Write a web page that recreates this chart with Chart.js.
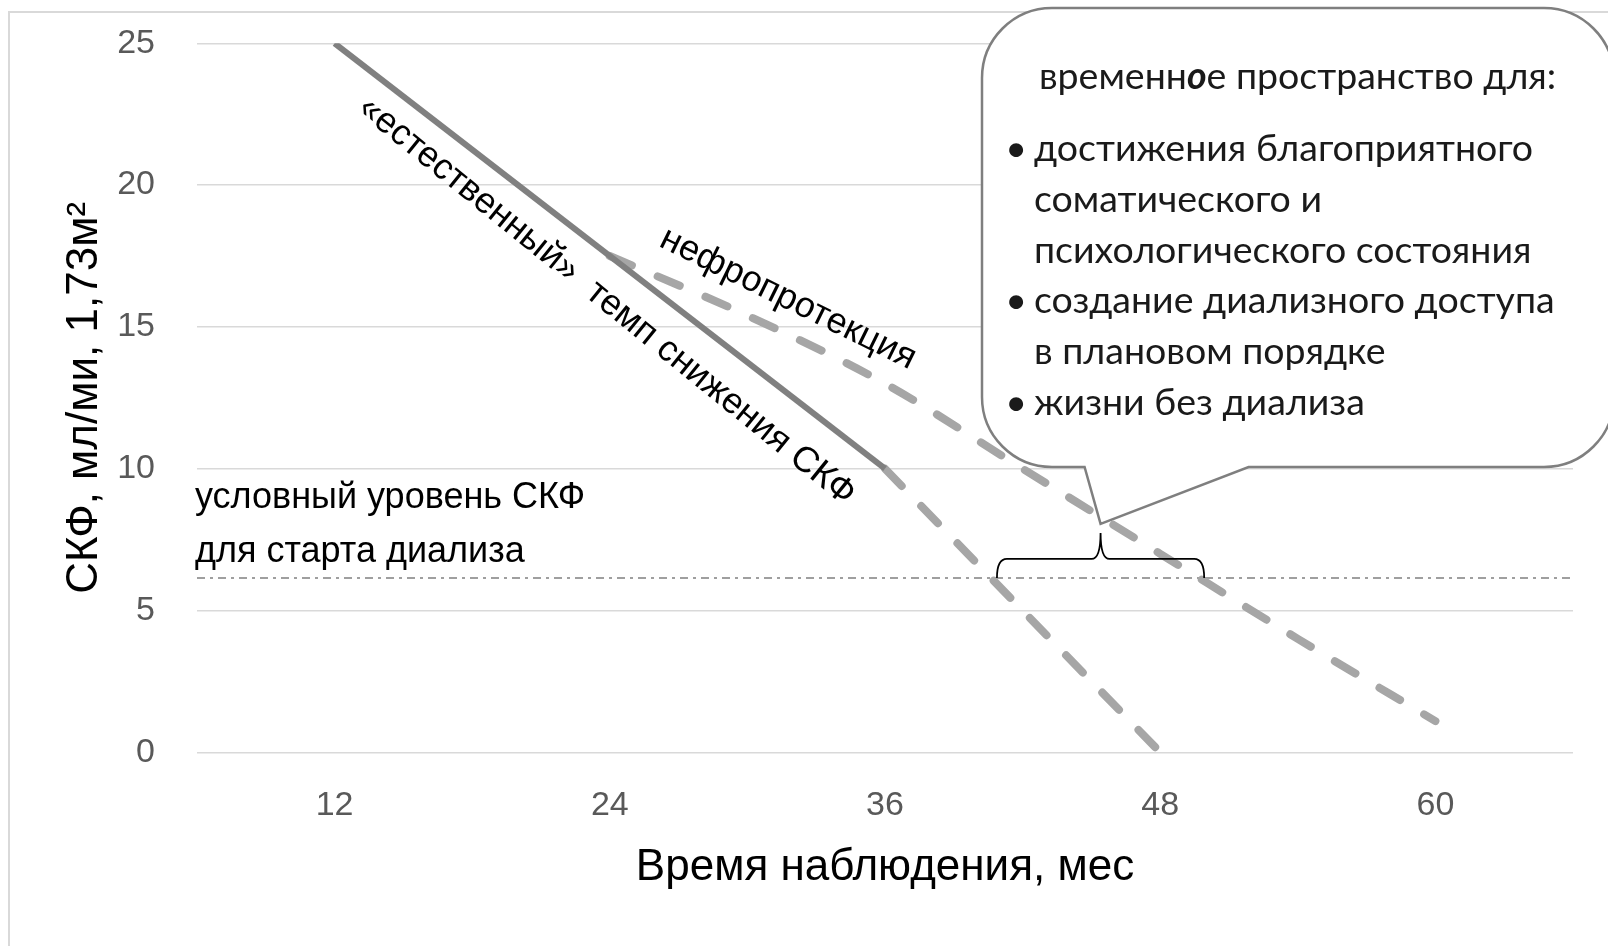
<!DOCTYPE html>
<html lang="ru">
<head>
<meta charset="UTF-8">
<title>СКФ: естественный темп снижения и нефропротекция</title>
<script src="https://cdn.jsdelivr.net/npm/chart.js"></script>
<style>
    html, body { margin: 0; padding: 0; background: #fff; }
    #wrap { width: 1608px; height: 946px; }
</style>
</head>
<body>
<div id="wrap"><canvas id="gfrChart" width="1608" height="946"></canvas></div>
<script>
// --- данные ---
const monthTicks = [12, 24, 36, 48, 60];
const gfrTicks = [0, 5, 10, 15, 20, 25];
const monthRange = [6, 66];

// «естественный» темп снижения
const naturalMonths = [12, 36];
const naturalGfr = [25, 10];
const naturalTailMonths = [36, 48];
const naturalTailGfr = [10, 0];

// нефропротекция
const nephroMonths = [24, 30, 36, 42, 48, 54, 60];
const nephroGfr = [17.5, 15.4, 13.0, 10.0, 7.0, 4.0, 1.1];

// условный уровень СКФ для старта диализа
const startLevelMonths = [6, 66];
const startLevelGfr = [6.15, 6.15];

const calloutTitle = ['временн', 'о', 'е пространство для:'];
const calloutItems = [
    ['достижения благоприятного', 'соматического и', 'психологического состояния'],
    ['создание диализного доступа', 'в плановом порядке'],
    ['жизни без диализа']
];

const SANS = "'Liberation Sans', Arial, sans-serif";
const CALLOUT = "Lato, 'Open Sans', sans-serif";
const TILT = 1.3 * Math.PI / 180; // подписи чуть круче линий

function toPoints(xs, ys) {
    return xs.map((x, i) => ({ x: x, y: ys[i] }));
}

// где линия пересекает заданный уровень
function crossAt(xs, ys, level) {
    for (let i = 0; i < xs.length - 1; i++) {
        if ((ys[i] - level) * (ys[i + 1] - level) <= 0) {
            return xs[i] + (level - ys[i]) / (ys[i + 1] - ys[i]) * (xs[i + 1] - xs[i]);
        }
    }
    return xs[xs.length - 1];
}

function interpAt(xs, ys, x) {
    for (let i = 0; i < xs.length - 1; i++) {
        if (x >= xs[i] && x <= xs[i + 1]) {
            return ys[i] + (x - xs[i]) / (xs[i + 1] - xs[i]) * (ys[i + 1] - ys[i]);
        }
    }
    return ys[ys.length - 1];
}

function rotatedLabel(ctx, text, ax, ay, angle, dx, dy) {
    ctx.save();
    ctx.translate(ax, ay);
    ctx.rotate(angle);
    ctx.font = '36px ' + SANS;
    ctx.fillStyle = '#000';
    ctx.textAlign = 'center';
    ctx.textBaseline = 'middle';
    ctx.fillText(text, dx, dy);
    ctx.restore();
}

const decorPlugin = {
    id: 'decor',
    beforeDraw(chart) {
        const ctx = chart.ctx;
        ctx.save();
        ctx.fillStyle = '#fff';
        ctx.fillRect(0, 0, chart.width, chart.height);
        ctx.strokeStyle = '#d9d9d9';
        ctx.lineWidth = 2;
        ctx.strokeRect(9, 12, chart.width + 20, chart.height + 20);
        ctx.restore();
    },
    afterDatasetsDraw(chart) {
        const ctx = chart.ctx;
        const xs = chart.scales.x, ys = chart.scales.y;
        const px = v => xs.getPixelForValue(v);
        const py = v => ys.getPixelForValue(v);

        // подписи вдоль линий
        const natAngle = Math.atan2(py(naturalGfr[1]) - py(naturalGfr[0]), px(naturalMonths[1]) - px(naturalMonths[0]));
        rotatedLabel(ctx, '«естественный»  темп снижения СКФ',
            px(24), py(interpAt(naturalMonths, naturalGfr, 24)), natAngle + TILT, 26, 37);

        const nepAngle = Math.atan2(py(nephroGfr[2]) - py(nephroGfr[0]), px(nephroMonths[2]) - px(nephroMonths[0]));
        rotatedLabel(ctx, 'нефропротекция', px(30), py(nephroGfr[1]), nepAngle + TILT, 29, -33);

        // уровень старта диализа
        ctx.save();
        ctx.fillStyle = '#000';
        ctx.font = '36px ' + SANS;
        ctx.textAlign = 'left';
        ctx.textBaseline = 'alphabetic';
        ctx.fillText('условный уровень СКФ', 195, 508);
        ctx.fillText('для старта диализа', 195, 562);
        ctx.restore();

        // фигурная скобка
        const level = startLevelGfr[0];
        const xL = px(crossAt(naturalTailMonths, naturalTailGfr, level)) + 6;
        const xR = px(crossAt(nephroMonths, nephroGfr, level)) + 5;
        const yB = py(level);
        const yH = yB - 19, yTip = yB - 45;
        const xc = (xL + xR) / 2;
        ctx.save();
        ctx.strokeStyle = '#000';
        ctx.lineWidth = 1.8;
        ctx.beginPath();
        ctx.moveTo(xL, yB);
        ctx.quadraticCurveTo(xL, yH, xL + 10, yH);
        ctx.lineTo(xc - 9, yH);
        ctx.quadraticCurveTo(xc, yH, xc, yTip);
        ctx.quadraticCurveTo(xc, yH, xc + 9, yH);
        ctx.lineTo(xR - 10, yH);
        ctx.quadraticCurveTo(xR, yH, xR, yB);
        ctx.stroke();
        ctx.restore();

        // выноска
        const bl = 982, bt = 8, br = 1614, bb = 467, r = 70;
        const tipX = xc, tipY = yTip - 9;
        ctx.save();
        ctx.beginPath();
        ctx.moveTo(bl + r, bt);
        ctx.lineTo(br - r, bt);
        ctx.arcTo(br, bt, br, bt + r, r);
        ctx.lineTo(br, bb - r);
        ctx.arcTo(br, bb, br - r, bb, r);
        ctx.lineTo(tipX + 148, bb);
        ctx.lineTo(tipX, tipY);
        ctx.lineTo(tipX - 16, bb);
        ctx.lineTo(bl + r, bb);
        ctx.arcTo(bl, bb, bl, bb - r, r);
        ctx.lineTo(bl, bt + r);
        ctx.arcTo(bl, bt, bl + r, bt, r);
        ctx.closePath();
        ctx.fillStyle = '#fff';
        ctx.fill();
        ctx.strokeStyle = '#7f7f7f';
        ctx.lineWidth = 2.5;
        ctx.stroke();

        ctx.fillStyle = '#1a1a1a';
        ctx.textBaseline = 'middle';
        ctx.textAlign = 'left';
        let tx = 1039;
        calloutTitle.forEach((part, i) => {
            ctx.font = (i === 1 ? 'italic bold ' : '') + '37.5px ' + CALLOUT;
            ctx.fillText(part, tx, 77);
            tx += ctx.measureText(part).width;
        });

        ctx.font = '37.5px ' + CALLOUT;
        let row = 0;
        calloutItems.forEach(item => {
            item.forEach((line, j) => {
                const y = 149 + row * 50.8;
                if (j === 0) {
                    ctx.textAlign = 'center';
                    ctx.fillText('•', 1016, y);
                    ctx.textAlign = 'left';
                }
                ctx.fillText(line, 1034, y);
                row++;
            });
        });
        ctx.restore();
    }
};

const tickFont = { family: SANS, size: 34 };

// убираем автоматический запас под крайние подписи
function noEdgePadding(s) {
    s.paddingTop = 0;
    s.paddingBottom = 0;
    s.paddingLeft = 0;
    s.paddingRight = 0;
}

new Chart(document.getElementById('gfrChart'), {
    type: 'line',
    data: {
        datasets: [
            {
                data: toPoints(naturalMonths, naturalGfr),
                borderColor: '#808080',
                borderWidth: 6,
                pointRadius: 0,
                order: 1
            },
            {
                data: toPoints(naturalTailMonths, naturalTailGfr),
                borderColor: '#a6a6a6',
                borderWidth: 8,
                borderDash: [24, 28],
                borderCapStyle: 'round',
                pointRadius: 0,
                order: 2
            },
            {
                data: toPoints(nephroMonths, nephroGfr),
                borderColor: '#a6a6a6',
                borderWidth: 8,
                borderDash: [24, 28],
                borderCapStyle: 'round',
                cubicInterpolationMode: 'monotone',
                pointRadius: 0,
                order: 3
            },
            {
                data: toPoints(startLevelMonths, startLevelGfr),
                borderColor: '#808080',
                borderWidth: 1.5,
                borderDash: [8, 5, 3, 5],
                pointRadius: 0,
                order: 4
            }
        ]
    },
    options: {
        responsive: false,
        animation: false,
        layout: { padding: { left: 0, right: 35, top: 43.3, bottom: 0 } },
        plugins: {
            legend: { display: false },
            tooltip: { enabled: false }
        },
        scales: {
            x: {
                type: 'linear',
                min: monthRange[0],
                max: monthRange[1],
                afterBuildTicks: s => { s.ticks = monthTicks.map(v => ({ value: v })); },
                afterFit: s => { noEdgePadding(s); s.height = 193.7; },
                grid: { display: false, drawTicks: false },
                border: { display: false },
                ticks: { color: '#595959', font: tickFont, padding: 33, maxRotation: 0, autoSkip: false },
                title: {
                    display: true,
                    text: 'Время наблюдения, мес',
                    color: '#000',
                    font: { family: SANS, size: 44 },
                    padding: { top: 0, bottom: 52 }
                }
            },
            y: {
                min: 0,
                max: 25,
                afterBuildTicks: s => { s.ticks = gfrTicks.map(v => ({ value: v })); },
                afterFit: s => { noEdgePadding(s); s.width = 197; },
                grid: { color: '#d9d9d9', lineWidth: 1.5, drawTicks: false },
                border: { display: false },
                ticks: { color: '#595959', font: tickFont, padding: 42 },
                title: {
                    display: true,
                    text: 'СКФ, мл/ми, 1,73м²',
                    color: '#000',
                    font: { family: SANS, size: 44 },
                    padding: { top: 58, bottom: 0 }
                }
            }
        }
    },
    plugins: [decorPlugin]
});
</script>
</body>
</html>
